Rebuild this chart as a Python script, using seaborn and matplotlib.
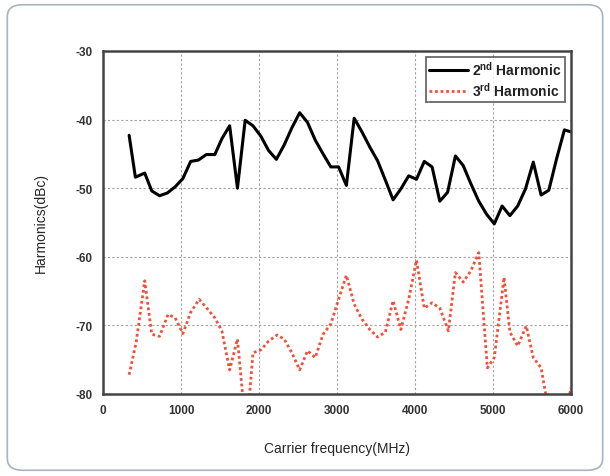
import numpy as np
import pandas as pd
import matplotlib
matplotlib.use("Agg")
import matplotlib.pyplot as plt
from matplotlib.patches import FancyBboxPatch
from matplotlib.ticker import MultipleLocator
import seaborn as sns

# --- Data ---
freq_2nd = [334, 414, 474, 534, 624, 724, 824, 924, 1023, 1123, 1223, 1323, 1433,
            1523, 1623, 1723, 1822, 1922, 2022, 2122, 2222, 2322, 2421, 2521, 2621,
            2721, 2821, 2920, 3020, 3120, 3220, 3320, 3420, 3520, 3619, 3719, 3819,
            3919, 4019, 4119, 4219, 4318, 4418, 4518, 4618, 4718, 4818, 4918, 5017,
            5117, 5217, 5317, 5417, 5517, 5617, 5716, 5816, 5916, 6000]
harm_2nd = [-42.3, -48.4, -48.1, -47.8, -50.4, -51.1, -50.7, -49.8, -48.6, -46.1,
            -45.9, -45.1, -45.1, -42.8, -40.9, -50.0, -40.1, -40.9, -42.4, -44.5,
            -45.8, -43.7, -41.2, -39.0, -40.4, -43.0, -45.0, -46.9, -46.9, -49.6,
            -39.8, -41.8, -44.0, -46.0, -48.8, -51.7, -50.1, -48.2, -48.7, -46.1,
            -46.9, -51.9, -50.6, -45.3, -46.7, -49.4, -51.9, -53.8, -55.2, -52.6,
            -54.0, -52.6, -50.1, -46.2, -51.0, -50.3, -45.7, -41.5, -41.8]

freq_3rd = [334, 424, 534, 624, 724, 834, 924, 1023, 1123, 1233, 1323, 1433, 1523,
            1623, 1723, 1797, 1872, 1922, 2022, 2122, 2232, 2322, 2421, 2521, 2621,
            2721, 2821, 2920, 3020, 3120, 3220, 3320, 3420, 3520, 3619, 3719, 3819,
            3919, 4019, 4119, 4219, 4318, 4428, 4518, 4618, 4718, 4818, 4928, 5017,
            5142, 5217, 5317, 5427, 5517, 5617, 5691, 5800, 5900, 6000]
harm_3rd = [-77.2, -72.5, -63.5, -71.3, -71.6, -68.4, -68.9, -71.2, -68.1, -66.2,
            -67.4, -68.9, -70.8, -76.5, -72.0, -81.0, -81.0, -74.0, -73.6, -72.3,
            -71.4, -72.0, -74.0, -76.5, -73.7, -74.7, -71.3, -69.8, -66.2, -62.7,
            -66.9, -69.1, -70.6, -71.7, -71.0, -66.4, -70.6, -66.2, -60.5, -67.5,
            -66.7, -67.5, -70.8, -62.3, -63.7, -62.0, -59.4, -76.2, -74.7, -63.0,
            -71.0, -73.0, -70.1, -74.7, -76.2, -81.0, -86.0, -84.0, -79.1]

df = pd.concat([
    pd.DataFrame({"freq": freq_2nd, "dbc": harm_2nd, "series": "2nd"}),
    pd.DataFrame({"freq": freq_3rd, "dbc": harm_3rd, "series": "3rd"}),
])

sns.set_style("white")
plt.rcParams["font.family"] = ["Liberation Sans", "DejaVu Sans"]
plt.rcParams["axes.unicode_minus"] = False
plt.rcParams["mathtext.fontset"] = "custom"
plt.rcParams["mathtext.rm"] = "Liberation Sans"
plt.rcParams["mathtext.bf"] = "Liberation Sans:bold"

fig = plt.figure(figsize=(6.10, 4.77), dpi=100)
fig.patches.append(FancyBboxPatch((0.012, 0.012), 0.976, 0.976,
                                  boxstyle="round,pad=0,rounding_size=0.025",
                                  transform=fig.transFigure, fill=False,
                                  edgecolor="#a7b4c0", linewidth=1.2))
ax = fig.add_axes([0.169, 0.172, 0.767, 0.719])

sns.lineplot(data=df[df.series == "2nd"], x="freq", y="dbc", ax=ax,
             color="black", linewidth=2.2, label=r"2$^{\mathbf{nd}}$ Harmonic")
sns.lineplot(data=df[df.series == "3rd"], x="freq", y="dbc", ax=ax,
             color="#f0503c", linewidth=2.0, linestyle=(0, (1, 1)),
             label=r"3$^{\mathbf{rd}}$ Harmonic")

ax.set_xlim(0, 6000)
ax.set_ylim(-80, -30)
ax.xaxis.set_major_locator(MultipleLocator(1000))
ax.xaxis.set_minor_locator(MultipleLocator(500))
ax.yaxis.set_major_locator(MultipleLocator(10))
ax.yaxis.set_minor_locator(MultipleLocator(5))
ax.grid(True, which="major", color="#a0a0a0", linestyle=(0, (2, 2)), linewidth=0.8)
ax.tick_params(which="major", direction="out", length=4, width=1.2,
               labelsize=8.5, colors="#333333")
ax.tick_params(which="minor", direction="out", length=2.5, width=1.0, colors="#333333")
for lab in ax.get_xticklabels() + ax.get_yticklabels():
    lab.set_fontweight("bold")
    lab.set_color("#333333")
for s in ax.spines.values():
    s.set_linewidth(1.8)
    s.set_color("#444444")

ax.set_xlabel("Carrier frequency(MHz)", fontsize=10, labelpad=18)
ax.set_ylabel("Harmonics(dBc)", fontsize=10, labelpad=20)

leg = ax.legend(loc="upper right", fontsize=10, frameon=True, fancybox=False,
                borderpad=0.25, handlelength=2.8, handletextpad=0.3,
                labelspacing=0.2, borderaxespad=0.4)
leg.get_frame().set_edgecolor("#444444")
leg.get_frame().set_linewidth(1.3)
for t in leg.get_texts():
    t.set_fontweight("bold")
    t.set_color("#222222")

fig.savefig("out.png", dpi=100)
